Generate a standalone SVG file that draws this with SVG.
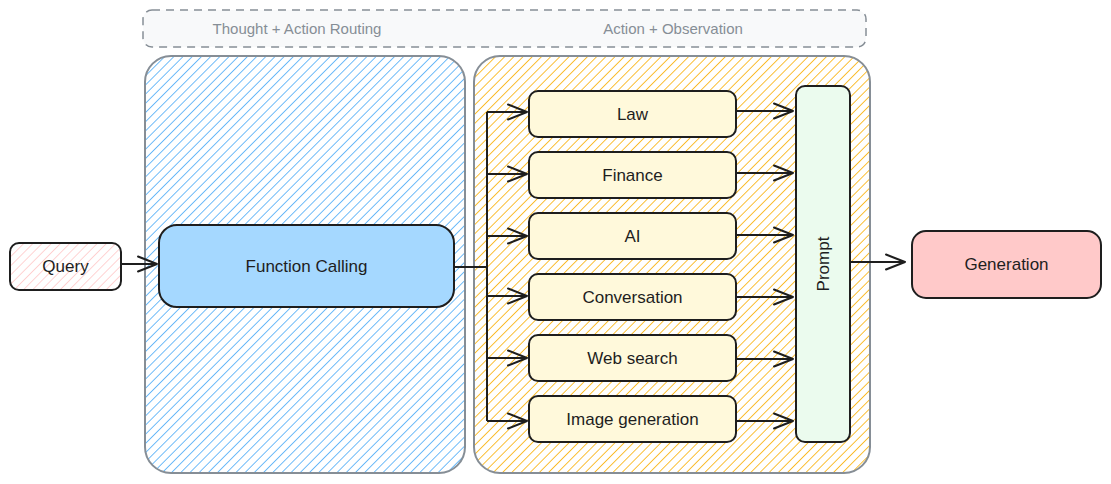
<svg xmlns="http://www.w3.org/2000/svg" width="1111" height="484" viewBox="0 0 1111 484">
<defs>
<pattern id="hBlue" width="6.5" height="6.5" patternUnits="userSpaceOnUse" patternTransform="rotate(45)"><line x1="0" y1="0" x2="0" y2="6.5" stroke="#4dabf7" stroke-width="1.6"/></pattern>
<pattern id="hOrange" width="6.5" height="6.5" patternUnits="userSpaceOnUse" patternTransform="rotate(45)"><line x1="0" y1="0" x2="0" y2="6.5" stroke="#fab005" stroke-width="1.6"/></pattern>
<pattern id="hPink" width="6.5" height="6.5" patternUnits="userSpaceOnUse" patternTransform="rotate(45)"><line x1="0" y1="0" x2="0" y2="6.5" stroke="#ffc9c9" stroke-width="1.6"/></pattern>
<marker id="arr" markerWidth="24" markerHeight="20" refX="21" refY="10" orient="auto" markerUnits="userSpaceOnUse"><path d="M2 2.5 L21 10 L2 17.5" fill="none" stroke="#1e1e1e" stroke-width="2" stroke-linecap="round" stroke-linejoin="round"/></marker>
</defs>
<style>
text{font-family:"Liberation Sans",Arial,sans-serif;fill:#1e1e1e;font-size:17px;text-anchor:middle;dominant-baseline:central}
.title{fill:#868e96;font-size:15px}
.box{stroke:#1e1e1e;stroke-width:2}
.tool{fill:#fff9db;stroke:#1e1e1e;stroke-width:2}
.cont{stroke:#868e96;stroke-width:2}
.conn{fill:none;stroke:#1e1e1e;stroke-width:2}
</style>
<rect width="1111" height="484" fill="#ffffff"/>
<g id="header">
<rect x="143" y="10" width="723" height="37" rx="9" fill="#f8f9fa" stroke="#868e96" stroke-width="1.5" stroke-dasharray="8 6"/>
<text class="title" x="297" y="28">Thought + Action Routing</text>
<text class="title" x="673" y="28">Action  + Observation</text>
</g>
<g id="routing-container">
<rect class="cont" x="145" y="56" width="320" height="417" rx="26" fill="url(#hBlue)"/>
</g>
<g id="action-container">
<rect class="cont" x="474" y="56" width="396" height="417" rx="26" fill="url(#hOrange)"/>
</g>
<g id="query">
<rect x="10" y="243" width="111" height="47" rx="9" fill="#ffffff"/>
<rect class="box" x="10" y="243" width="111" height="47" rx="9" fill="url(#hPink)"/>
<text x="65.5" y="266.5">Query</text>
</g>
<g id="function-calling">
<rect class="box" x="159" y="225" width="295" height="82" rx="18" fill="#a5d8ff"/>
<text x="306.5" y="266">Function Calling</text>
</g>
<g id="law"><rect class="tool" x="529" y="91" width="207" height="46" rx="9"/><text x="632.5" y="114">Law</text></g>
<g id="finance"><rect class="tool" x="529" y="152" width="207" height="46" rx="9"/><text x="632.5" y="175">Finance</text></g>
<g id="ai"><rect class="tool" x="529" y="213" width="207" height="46" rx="9"/><text x="632.5" y="236">AI</text></g>
<g id="conversation"><rect class="tool" x="529" y="274" width="207" height="46" rx="9"/><text x="632.5" y="297">Conversation</text></g>
<g id="web-search"><rect class="tool" x="529" y="335" width="207" height="46" rx="9"/><text x="632.5" y="358">Web search</text></g>
<g id="image-generation"><rect class="tool" x="529" y="396" width="207" height="46" rx="9"/><text x="632.5" y="419">Image generation</text></g>
<g id="prompt">
<rect class="box" x="796" y="86" width="54" height="356" rx="9" fill="#ebfbee"/>
<text x="823" y="264" transform="rotate(-90 823 264)">Prompt</text>
</g>
<g id="generation">
<rect class="box" x="912" y="231" width="189" height="67" rx="14" fill="#ffc9c9"/>
<text x="1006.5" y="264.5">Generation</text>
</g>
<g id="connectors">
<line class="conn" x1="121" y1="264" x2="157" y2="264" marker-end="url(#arr)"/>
<polyline class="conn" points="454,267 487,267"/>
<line class="conn" x1="487" y1="112" x2="487" y2="421"/>
<line class="conn" x1="487" y1="112" x2="527" y2="112" marker-end="url(#arr)"/>
<line class="conn" x1="487" y1="174" x2="527" y2="174" marker-end="url(#arr)"/>
<line class="conn" x1="487" y1="236" x2="527" y2="236" marker-end="url(#arr)"/>
<line class="conn" x1="487" y1="296" x2="527" y2="296" marker-end="url(#arr)"/>
<line class="conn" x1="487" y1="358" x2="527" y2="358" marker-end="url(#arr)"/>
<line class="conn" x1="487" y1="421" x2="527" y2="421" marker-end="url(#arr)"/>
<line class="conn" x1="736" y1="111" x2="793" y2="111" marker-end="url(#arr)"/>
<line class="conn" x1="736" y1="173" x2="793" y2="173" marker-end="url(#arr)"/>
<line class="conn" x1="736" y1="235" x2="793" y2="235" marker-end="url(#arr)"/>
<line class="conn" x1="736" y1="297" x2="793" y2="297" marker-end="url(#arr)"/>
<line class="conn" x1="736" y1="359" x2="793" y2="359" marker-end="url(#arr)"/>
<line class="conn" x1="736" y1="421" x2="793" y2="421" marker-end="url(#arr)"/>
<line class="conn" x1="850" y1="262" x2="905" y2="262" marker-end="url(#arr)"/>
</g>
</svg>
